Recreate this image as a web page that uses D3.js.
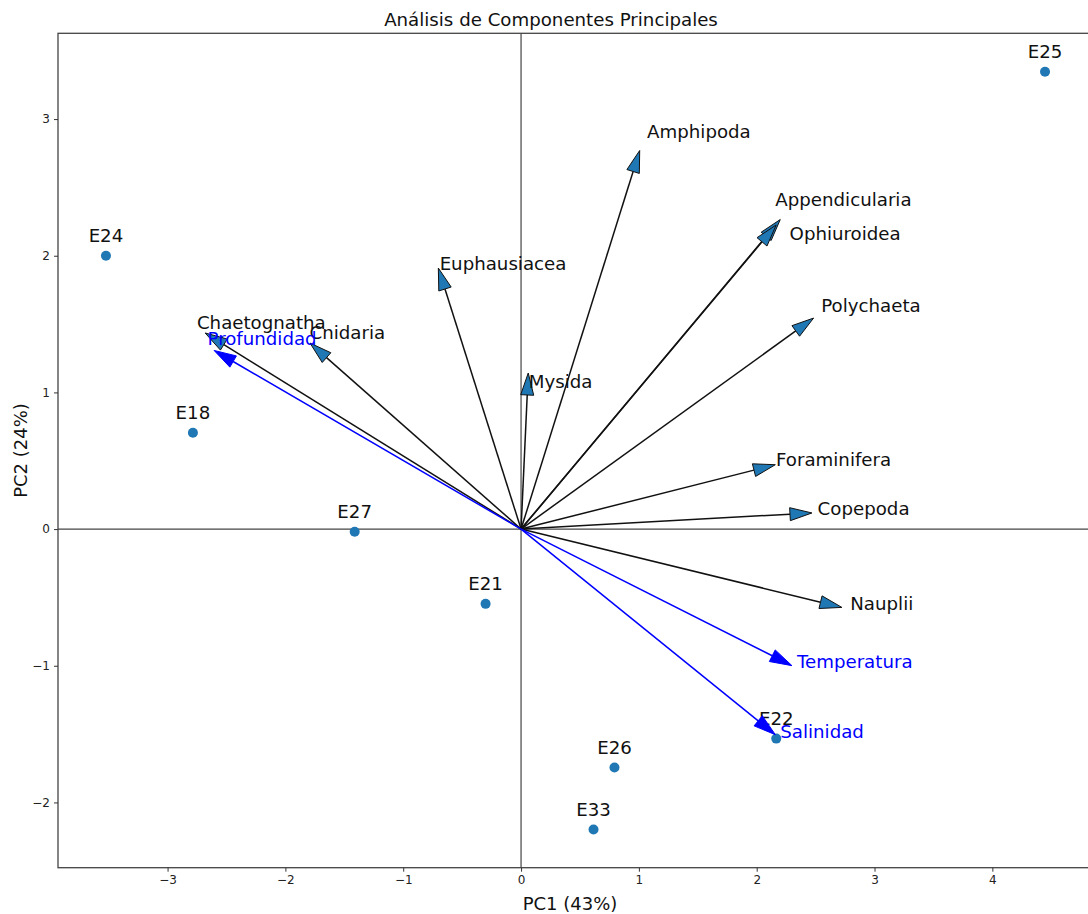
<!DOCTYPE html>
<html>
<head>
<meta charset="utf-8">
<script src="https://cdn.jsdelivr.net/npm/d3@7"></script>
<style>
  html, body { margin: 0; padding: 0; background: #fff; }
  svg { display: block; }
  text { font-family: "DejaVu Sans", sans-serif; }
</style>
</head>
<body>
<svg id="chart" width="1088" height="914"></svg>
<script>
// Sample scores (PC1, PC2)
const sampleNames = ["E25", "E24", "E18", "E27", "E21", "E22", "E26", "E33"];
const samplePC1 = [4.447, -3.523, -2.785, -1.412, -0.301, 2.166, 0.793, 0.615];
const samplePC2 = [3.346, 2.000, 0.705, -0.019, -0.547, -1.533, -1.745, -2.198];

// Taxa loadings (arrow tips) and label anchors, in PC units
const taxaNames = ["Amphipoda", "Appendicularia", "Ophiuroidea", "Polychaeta", "Euphausiacea",
  "Chaetognatha", "Cnidaria", "Mysida", "Foraminifera", "Copepoda", "Nauplii"];
const taxaPC1 = [1.007, 2.200, 2.165, 2.483, -0.702, -2.681, -1.791, 0.061, 2.158, 2.469, 2.723];
const taxaPC2 = [2.770, 2.265, 2.225, 1.544, 1.910, 1.435, 1.361, 1.142, 0.471, 0.118, -0.573];
const taxaLabelPC1 = [1.070, 2.158, 2.279, 2.548, -0.691, -2.751, -1.795, 0.066, 2.164, 2.517, 2.794];
const taxaLabelPC2 = [2.909, 2.410, 2.166, 1.636, 1.941, 1.508, 1.435, 1.080, 0.508, 0.154, -0.541];

// Environmental variables
const envNames = ["Profundidad", "Temperatura", "Salinidad"];
const envPC1 = [-2.605, 2.299, 2.158];
const envPC2 = [1.307, -0.999, -1.504];
const envLabelPC1 = [-2.661, 2.342, 2.200];
const envLabelPC2 = [1.398, -0.968, -1.480];

const xTicks = [-3, -2, -1, 0, 1, 2, 3, 4];
const yTicks = [-2, -1, 0, 1, 2, 3];

const svg = d3.select("#chart");
const plot = { left: 58, right: 1092.5, top: 33.3, bottom: 867.7 };

const x = d3.scaleLinear().domain([-3.93, 4.85]).range([plot.left, plot.right]);
const y = d3.scaleLinear().domain([-2.4775, 3.6275]).range([plot.bottom, plot.top]);

// Axes frame
svg.append("rect")
  .attr("x", plot.left).attr("y", plot.top)
  .attr("width", plot.right - plot.left).attr("height", plot.bottom - plot.top)
  .attr("fill", "none").attr("stroke", "#444").attr("stroke-width", 1.3);

// Axis ticks
const fmt = d => d < 0 ? "\u2212" + Math.abs(d) : d;
const xAxis = d3.axisBottom(x).tickValues(xTicks).tickSize(4).tickPadding(4).tickFormat(fmt);
const yAxis = d3.axisLeft(y).tickValues(yTicks).tickSize(4).tickPadding(4).tickFormat(fmt);

const gx = svg.append("g").attr("transform", `translate(0,${plot.bottom})`).call(xAxis);
const gy = svg.append("g").attr("transform", `translate(${plot.left},0)`).call(yAxis);
[gx, gy].forEach(g => {
  g.select(".domain").remove();
  g.selectAll(".tick line").attr("stroke", "#333").attr("stroke-width", 1);
  g.selectAll(".tick text").attr("fill", "#222").style("font-size", "12px")
    .style("font-family", "DejaVu Sans, sans-serif");
});

// Zero reference lines
svg.append("line")
  .attr("x1", plot.left).attr("x2", plot.right)
  .attr("y1", y(0)).attr("y2", y(0))
  .attr("stroke", "#444").attr("stroke-width", 1.2);
svg.append("line")
  .attr("x1", x(0)).attr("x2", x(0))
  .attr("y1", plot.top).attr("y2", plot.bottom)
  .attr("stroke", "#444").attr("stroke-width", 1.2);

// Sample points
const samples = sampleNames.map((n, i) => ({ name: n, pc1: samplePC1[i], pc2: samplePC2[i] }));
svg.append("g").selectAll("circle").data(samples).join("circle")
  .attr("cx", d => x(d.pc1)).attr("cy", d => y(d.pc2)).attr("r", 5)
  .attr("fill", "#1f77b4");

svg.append("g").selectAll("text").data(samples).join("text")
  .attr("x", d => x(d.pc1)).attr("y", d => y(d.pc2 + 0.1))
  .attr("text-anchor", "middle")
  .style("font-size", "18.2px").attr("fill", "#111")
  .text(d => d.name);

// Loading arrows
function arrow(g, tx, ty, lineColor, headFill, headStroke) {
  const ox = x(0), oy = y(0);
  const px = x(tx), py = y(ty);
  const dx = px - ox, dy = py - oy;
  const len = Math.hypot(dx, dy);
  const ux = dx / len, uy = dy / len;
  const nx = -uy, ny = ux;
  const headLen = 22, halfW = 6.5;
  const bx = px - ux * headLen, by = py - uy * headLen;
  g.append("line")
    .attr("x1", ox).attr("y1", oy).attr("x2", bx).attr("y2", by)
    .attr("stroke", lineColor).attr("stroke-width", 1.5);
  g.append("path")
    .attr("d", `M${px},${py}L${bx + nx * halfW},${by + ny * halfW}L${bx - nx * halfW},${by - ny * halfW}Z`)
    .attr("fill", headFill).attr("stroke", headStroke).attr("stroke-width", 1)
    .attr("stroke-linejoin", "miter");
}

const arrowsG = svg.append("g");
taxaNames.forEach((n, i) => arrow(arrowsG, taxaPC1[i], taxaPC2[i], "#111", "#1f77b4", "#111"));
envNames.forEach((n, i) => arrow(arrowsG, envPC1[i], envPC2[i], "#0000ff", "#0000ff", "#0000ff"));

const labelsG = svg.append("g");
taxaNames.forEach((n, i) => {
  labelsG.append("text")
    .attr("x", x(taxaLabelPC1[i])).attr("y", y(taxaLabelPC2[i]))
    .attr("dominant-baseline", "central")
    .style("font-size", "18.2px").attr("fill", "#111")
    .text(n);
});
envNames.forEach((n, i) => {
  labelsG.append("text")
    .attr("x", x(envLabelPC1[i])).attr("y", y(envLabelPC2[i]))
    .attr("dominant-baseline", "central")
    .style("font-size", "18.2px").attr("fill", "#0000ff")
    .text(n);
});

// Title and axis labels
svg.append("text").attr("x", 551).attr("y", 26).attr("text-anchor", "middle")
  .style("font-size", "18.2px").attr("fill", "#111")
  .text("Análisis de Componentes Principales");
svg.append("text").attr("x", 570).attr("y", 910).attr("text-anchor", "middle")
  .style("font-size", "18px").attr("fill", "#111")
  .text("PC1 (43%)");
svg.append("text")
  .attr("transform", `translate(27,${(plot.top + plot.bottom) / 2}) rotate(-90)`)
  .attr("text-anchor", "middle")
  .style("font-size", "18px").attr("fill", "#111")
  .text("PC2 (24%)");
</script>
</body>
</html>
